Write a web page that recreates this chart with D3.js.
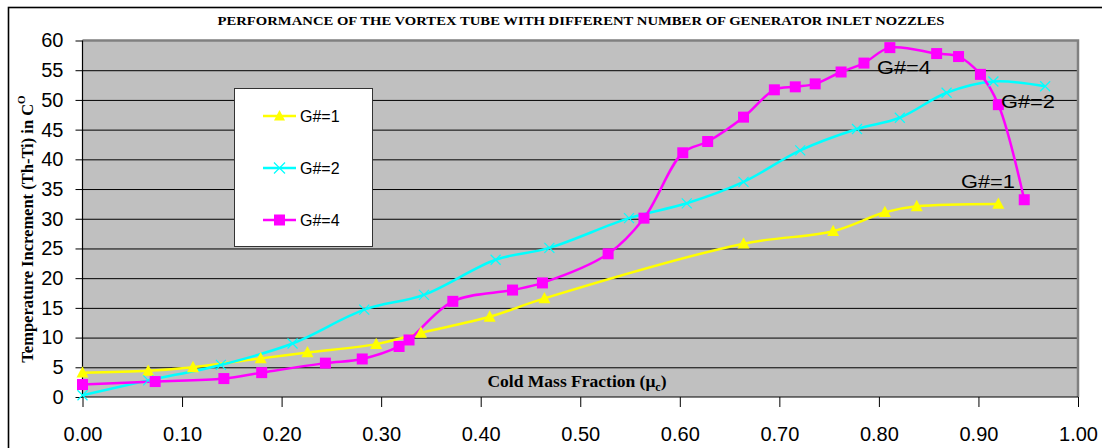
<!DOCTYPE html>
<html>
<head>
<meta charset="utf-8">
<script src="https://cdn.jsdelivr.net/npm/d3@7"></script>
<style>
  html, body { margin: 0; padding: 0; background: #fff; }
  svg { display: block; }
</style>
</head>
<body>
<svg id="chart" width="1102" height="448"></svg>
<script>
// Cold mass fraction (x) and temperature increment Th-Ti (y) for each generator
const g1X = [0.000, 0.066, 0.111, 0.179, 0.226, 0.295, 0.340, 0.409, 0.464, 0.664, 0.754, 0.806, 0.838, 0.920];
const g1Y = [4.1, 4.4, 5.0, 6.5, 7.5, 8.9, 10.8, 13.5, 16.6, 25.8, 27.9, 31.1, 32.1, 32.5];

const g2X = [0.000, 0.066, 0.139, 0.211, 0.283, 0.343, 0.415, 0.469, 0.549, 0.607, 0.664, 0.721, 0.778, 0.821, 0.868, 0.915, 0.967];
const g2Y = [0.3, 2.8, 5.4, 9.0, 14.7, 17.2, 23.1, 25.1, 30.1, 32.6, 36.2, 41.5, 45.1, 47.0, 51.2, 53.1, 52.3];

const g4X = [0.000, 0.073, 0.142, 0.180, 0.244, 0.281, 0.318, 0.328, 0.372, 0.432, 0.462, 0.528, 0.564, 0.603, 0.628, 0.664, 0.695, 0.716, 0.736, 0.762, 0.785, 0.811, 0.858, 0.880, 0.902, 0.920, 0.946];
const g4Y = [2.1, 2.6, 3.1, 4.1, 5.7, 6.4, 8.5, 9.6, 16.1, 18.0, 19.2, 24.1, 30.1, 41.1, 43.0, 47.1, 51.7, 52.2, 52.7, 54.7, 56.2, 58.8, 57.8, 57.3, 54.3, 49.2, 33.2];

const seriesNames = ["G#=1", "G#=2", "G#=4"];
const xTicks = [0, 0.1, 0.2, 0.3, 0.4, 0.5, 0.6, 0.7, 0.8, 0.9, 1.0];
const yTicks = [0, 5, 10, 15, 20, 25, 30, 35, 40, 45, 50, 55, 60];

const titleText = "PERFORMANCE OF THE VORTEX TUBE WITH DIFFERENT NUMBER OF GENERATOR INLET NOZZLES";

const series = [
  { name: seriesNames[0], xs: g1X, ys: g1Y, color: "#FFFF00", marker: "triangle" },
  { name: seriesNames[1], xs: g2X, ys: g2Y, color: "#00FFFF", marker: "cross" },
  { name: seriesNames[2], xs: g4X, ys: g4Y, color: "#FF00FF", marker: "square" }
];

const svg = d3.select("#chart");
const plotLeft = 82.5, plotRight = 1078, plotTop = 40.5, plotBottom = 397;

const x = d3.scaleLinear().domain([0, 1]).range([plotLeft, plotRight]);
const y = d3.scaleLinear().domain([0, 60]).range([plotBottom, plotTop]);

// outer chart frame
svg.append("rect").attr("x", 8.5).attr("y", 7.5).attr("width", 1120).attr("height", 460)
  .attr("fill", "#fff").attr("stroke", "#000").attr("stroke-width", 1.6);

// title
svg.append("text").attr("x", 581).attr("y", 25).attr("text-anchor", "middle")
  .attr("font-family", "Liberation Serif, Times New Roman, serif").attr("font-weight", "bold")
  .attr("font-size", 12.5).attr("textLength", 727).attr("lengthAdjust", "spacingAndGlyphs")
  .text(titleText);

// plot area
svg.append("rect").attr("x", plotLeft).attr("y", plotTop).attr("width", plotRight - plotLeft).attr("height", plotBottom - plotTop)
  .attr("fill", "#C0C0C0");

// horizontal gridlines
svg.append("g").selectAll("line").data(yTicks.filter(d => d > 0 && d < 60)).join("line")
  .attr("x1", plotLeft).attr("x2", plotRight).attr("y1", d => y(d) + 0.5).attr("y2", d => y(d) + 0.5)
  .attr("stroke", "#000").attr("stroke-width", 1);

// plot border (top and right)
svg.append("path")
  .attr("d", `M${plotLeft},${plotTop}H${plotRight}V${plotBottom}`)
  .attr("fill", "none").attr("stroke", "#808080").attr("stroke-width", 2.5);

// axes
const fontSans = "Liberation Sans, Arial, sans-serif";
const yAxis = d3.axisLeft(y).tickValues(yTicks).tickSize(7).tickPadding(12).tickFormat(d3.format("d"));
const gy = svg.append("g").attr("transform", `translate(${plotLeft},0)`).call(yAxis);
const xAxis = d3.axisBottom(x).tickValues(xTicks).tickSize(10).tickPadding(20).tickFormat(d3.format(".2f"));
const gx = svg.append("g").attr("transform", `translate(0,${plotBottom})`).call(xAxis);
[gx, gy].forEach(g => {
  g.selectAll("text").attr("font-family", fontSans).attr("font-size", 20).attr("fill", "#000");
  g.selectAll("line").attr("stroke", "#000");
  g.select(".domain").attr("stroke", "#000").attr("stroke-width", 1.2);
});
gx.select(".domain").attr("d", `M${plotLeft},0H${plotRight}`);
gy.select(".domain").attr("d", `M0,${plotBottom}V${plotTop}`);

// axis titles
const fontSerif = "Liberation Serif, Times New Roman, serif";
const yTitle = svg.append("text")
  .attr("transform", "translate(33,229) rotate(-90)")
  .attr("text-anchor", "middle")
  .attr("font-family", fontSerif).attr("font-weight", "bold").attr("font-size", 16.5);
yTitle.append("tspan").text("Temperature Increment (Th-Ti) in C");
yTitle.append("tspan").attr("dy", -8).attr("font-size", 11).text("O");

const xTitle = svg.append("text").attr("x", 577).attr("y", 387).attr("text-anchor", "middle")
  .attr("font-family", fontSerif).attr("font-weight", "bold").attr("font-size", 17.5);
xTitle.append("tspan").text("Cold Mass Fraction (\u03bc");
xTitle.append("tspan").attr("dy", 4).attr("font-size", 12).text("c");
xTitle.append("tspan").attr("dy", -4).text(")");

// lines
const line = d3.line().x(d => x(d[0])).y(d => y(d[1])).curve(d3.curveCatmullRom.alpha(0.5));

function drawMarker(g, type, color, px, py, s) {
  if (type === "triangle") {
    const h = s * 0.9;
    g.append("path").attr("d", `M${px},${py - h * 0.6}L${px + s / 2},${py + h * 0.45}L${px - s / 2},${py + h * 0.45}Z`)
      .attr("fill", color);
  } else if (type === "square") {
    g.append("rect").attr("x", px - s / 2).attr("y", py - s / 2).attr("width", s).attr("height", s)
      .attr("fill", color);
  } else {
    const r = s / 2;
    g.append("path").attr("d", `M${px - r},${py - r}L${px + r},${py + r}M${px - r},${py + r}L${px + r},${py - r}`)
      .attr("stroke", color).attr("stroke-width", 1.2).attr("fill", "none");
  }
}

const plot = svg.append("g");
series.forEach(s => {
  const pts = s.xs.map((v, i) => [v, s.ys[i]]);
  plot.append("path").datum(pts).attr("d", line)
    .attr("fill", "none").attr("stroke", s.color).attr("stroke-width", 2.5);
});
series.forEach(s => {
  const g = plot.append("g");
  const size = s.marker === "triangle" ? 12 : s.marker === "square" ? 11 : 10;
  s.xs.forEach((v, i) => drawMarker(g, s.marker, s.color, x(v), y(s.ys[i]), size));
});

// in-plot series labels
const inline = [
  { text: seriesNames[2], x: 877, y: 74 },
  { text: seriesNames[1], x: 1001, y: 108 },
  { text: seriesNames[0], x: 961, y: 188 }
];
svg.append("g").selectAll("text").data(inline).join("text")
  .attr("x", d => d.x).attr("y", d => d.y)
  .attr("font-family", fontSans).attr("font-size", 19)
  .attr("textLength", 54).attr("lengthAdjust", "spacingAndGlyphs")
  .text(d => d.text);

// legend
const legend = svg.append("g");
legend.append("rect").attr("x", 234.5).attr("y", 88.5).attr("width", 138).attr("height", 158)
  .attr("fill", "#fff").attr("stroke", "#333").attr("stroke-width", 1);
series.forEach((s, i) => {
  const ly = 116 + i * 52;
  legend.append("line").attr("x1", 263).attr("x2", 296).attr("y1", ly).attr("y2", ly)
    .attr("stroke", s.color).attr("stroke-width", 2.5);
  drawMarker(legend, s.marker, s.color, 279.5, ly, 11);
  legend.append("text").attr("x", 300).attr("y", ly + 6)
    .attr("font-family", fontSans).attr("font-size", 16).text(s.name);
});
</script>
</body>
</html>
